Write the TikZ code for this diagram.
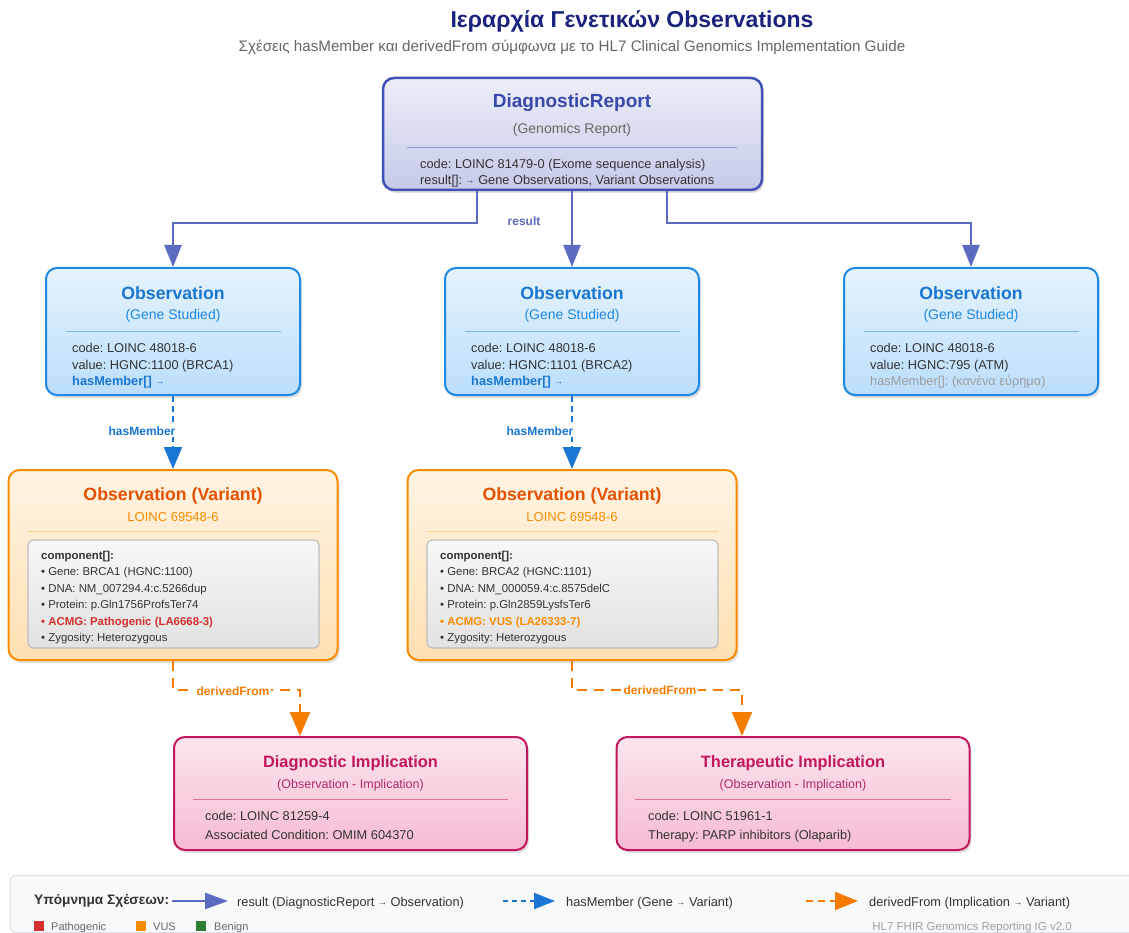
\documentclass[tikz,border=0pt]{standalone}
\usepackage{fontspec}
\setmainfont{Liberation Sans}
\usetikzlibrary{arrows.meta,shadows,calc}
\frenchspacing

% palette
\definecolor{titlenavy}{HTML}{1A237E}
\definecolor{subgrey}{HTML}{666666}
\definecolor{bodygrey}{HTML}{333333}
\definecolor{mutedgrey}{HTML}{9E9E9E}
\definecolor{drborder}{HTML}{3F51B5}
\definecolor{drtitle}{HTML}{3949AB}
\definecolor{drtop}{HTML}{ECEEF8}
\definecolor{drbot}{HTML}{C5CAE9}
\definecolor{drsep}{HTML}{8C9AE0}
\definecolor{resultblue}{HTML}{5C6BC0}
\definecolor{geneborder}{HTML}{1E88E5}
\definecolor{genetitle}{HTML}{1976D2}
\definecolor{genetop}{HTML}{E6F3FD}
\definecolor{genebot}{HTML}{BBDEFB}
\definecolor{genesep}{HTML}{7FB8EE}
\definecolor{varborder}{HTML}{FB8C00}
\definecolor{vartitle}{HTML}{E65100}
\definecolor{varsub}{HTML}{FB8C00}
\definecolor{vartop}{HTML}{FFF4E3}
\definecolor{varbot}{HTML}{FFE0B2}
\definecolor{varsep}{HTML}{FFCC80}
\definecolor{compborder}{HTML}{BDBDBD}
\definecolor{comptop}{HTML}{F7F7F7}
\definecolor{compbot}{HTML}{E2E2E2}
\definecolor{pathored}{HTML}{D32F2F}
\definecolor{vusorange}{HTML}{FB8C00}
\definecolor{benigngreen}{HTML}{2E7D32}
\definecolor{derivedorange}{HTML}{F57C00}
\definecolor{impborder}{HTML}{C2185B}
\definecolor{imptitle}{HTML}{C2185B}
\definecolor{impsub}{HTML}{B0286A}
\definecolor{imptop}{HTML}{FCE6EE}
\definecolor{impbot}{HTML}{F6BBD3}
\definecolor{impsep}{HTML}{E0709A}
\definecolor{legendfill}{HTML}{F8F9FA}
\definecolor{legendline}{HTML}{DEE2E6}

\tikzset{
  card/.style={rounded corners=11pt, line width=2pt, inner sep=0pt,
    drop shadow={shadow xshift=2pt, shadow yshift=-3pt, opacity=0.12, fill=black}},
  drcard/.style={card, line width=2.5pt, draw=drborder, top color=drtop, bottom color=drbot,
    minimum width=379pt, minimum height=112pt},
  genecard/.style={card, draw=geneborder, top color=genetop, bottom color=genebot,
    minimum width=254pt, minimum height=127pt},
  varcard/.style={card, draw=varborder, top color=vartop, bottom color=varbot,
    minimum width=329pt, minimum height=190pt},
  compcard/.style={rounded corners=5pt, line width=1.2pt, draw=compborder, inner sep=0pt,
    top color=comptop, bottom color=compbot, minimum width=291pt, minimum height=108pt},
  impcard/.style={card, draw=impborder, top color=imptop, bottom color=impbot,
    minimum width=353pt, minimum height=113pt},
  heading/.style={font=\bfseries\fontsize{17.7}{21}\selectfont, inner sep=0pt},
  subheading/.style={font=\fontsize{14}{16}\selectfont, inner sep=0pt},
  bodyline/.style={font=\fontsize{12.8}{15}\selectfont, text=bodygrey, anchor=base west,
    yshift=-4.6pt, inner sep=0pt},
  compline/.style={font=\fontsize{11.4}{13}\selectfont, text=bodygrey, anchor=base west,
    yshift=-4.1pt, inner sep=0pt},
  rule/.style={line width=0.9pt},
  resultlink/.style={draw=resultblue, line width=2.5pt, -{Triangle[length=22pt,width=17pt]}},
  memberlink/.style={draw=genetitle, line width=2pt, dash pattern=on 6pt off 4pt,
    -{Triangle[length=22pt,width=18pt]}},
  derivedlink/.style={draw=derivedorange, line width=2pt, dash pattern=on 10pt off 7pt,
    -{Triangle[length=24pt,width=20pt]}},
  linklabel/.style={font=\bfseries\fontsize{12}{14}\selectfont, inner sep=2pt, fill=white},
  legendtext/.style={font=\fontsize{12.8}{15}\selectfont, text=bodygrey, anchor=base west,
    yshift=-4.6pt, inner sep=0pt},
  keytext/.style={font=\fontsize{11}{13}\selectfont, text=subgrey, anchor=base west,
    yshift=-4pt, inner sep=0pt},
  swatch/.style={minimum size=10pt, inner sep=0pt},
}
\newcommand{\smallarrow}{\raisebox{1.5pt}{\fontsize{9}{9}\selectfont →}}

\begin{document}
\begin{tikzpicture}[x=1pt,y=-1pt]
\useasboundingbox (0,0) rectangle (1129,933);
\clip (0,0) rectangle (1129,933);
\fill[white] (0,0) rectangle (1129,933);

% heading
\node[font=\bfseries\fontsize{23}{26}\selectfont, text=titlenavy, inner sep=0pt] (title) at (632,21)
  {Ιεραρχία Γενετικών Observations};
\node[font=\fontsize{15.2}{18}\selectfont, text=subgrey, inner sep=0pt] (subtitle) at (572,47)
  {Σχέσεις hasMember και derivedFrom σύμφωνα με το HL7 Clinical Genomics Implementation Guide};

% DiagnosticReport
\node[drcard] (dr) at (572.5,134) {};
\node[heading, font=\bfseries\fontsize{19}{22}\selectfont, text=drtitle] (drt) at (572,103) {DiagnosticReport};
\node[subheading, text=subgrey] (drs) at (572,130) {(Genomics Report)};
\draw[rule, drsep] (407,147) -- (737,147);
\node[bodyline] (drl1) at (420,164) {code: LOINC 81479-0 (Exome sequence analysis)};
\node[bodyline] (drl2) at (420,180) {result[]: \smallarrow{} Gene Observations, Variant Observations};

% Gene observations
\node[genecard] (g1) at (173,331.5) {};
\node[genecard] (g2) at (572,331.5) {};
\node[genecard] (g3) at (971,331.5) {};

\node[heading, text=genetitle] (g1t) at (173,293) {Observation};
\node[subheading, text=geneborder] (g1s) at (173,316) {(Gene Studied)};
\draw[rule, genesep] (66,331) -- (281,331);
\node[bodyline] (g1a) at (72,348) {code: LOINC 48018-6};
\node[bodyline] (g1b) at (72,365) {value: HGNC:1100 (BRCA1)};
\node[bodyline, text=genetitle, font=\bfseries\fontsize{12.8}{15}\selectfont] (g1c) at (72,381) {hasMember[] \smallarrow};

\node[heading, text=genetitle] (g2t) at (572,293) {Observation};
\node[subheading, text=geneborder] (g2s) at (572,316) {(Gene Studied)};
\draw[rule, genesep] (465,331) -- (680,331);
\node[bodyline] (g2a) at (471,348) {code: LOINC 48018-6};
\node[bodyline] (g2b) at (471,365) {value: HGNC:1101 (BRCA2)};
\node[bodyline, text=genetitle, font=\bfseries\fontsize{12.8}{15}\selectfont] (g2c) at (471,381) {hasMember[] \smallarrow};

\node[heading, text=genetitle] (g3t) at (971,293) {Observation};
\node[subheading, text=geneborder] (g3s) at (971,316) {(Gene Studied)};
\draw[rule, genesep] (864,331) -- (1079,331);
\node[bodyline] (g3a) at (870,348) {code: LOINC 48018-6};
\node[bodyline] (g3b) at (870,365) {value: HGNC:795 (ATM)};
\node[bodyline, text=mutedgrey] (g3c) at (870,381) {hasMember[]: (κανένα εύρημα)};

% result links
\draw[resultlink] ($(dr.south)+(-95.5,0)$) -- ++(0,32) -| (g1.north);
\draw[resultlink] (g2.north |- dr.south) -- (g2.north);
\draw[resultlink] ($(dr.south)+(94.5,0)$) -- ++(0,32) -| (g3.north);
\node[font=\bfseries\fontsize{12}{14}\selectfont, text=resultblue, inner sep=0pt] (reslbl) at (524,221) {result};

% Variant observations
\node[varcard] (v1) at (173,565) {};
\node[varcard] (v2) at (572,565) {};

\node[heading, text=vartitle] (v1t) at (173,496) {Observation (Variant)};
\node[subheading, font=\fontsize{13}{15}\selectfont, text=varsub] (v1s) at (173,517) {LOINC 69548-6};
\draw[rule, varsep] (28,531) -- (319,531);
\node[compcard] (c1) at (173.5,594) {};
\node[compline, font=\bfseries\fontsize{11.4}{13}\selectfont] (c1h) at (41,555) {component[]:};
\node[compline] (c1a) at (41,571) {• Gene: BRCA1 (HGNC:1100)};
\node[compline] (c1b) at (41,588) {• DNA: NM\_007294.4:c.5266dup};
\node[compline] (c1c) at (41,604) {• Protein: p.Gln1756ProfsTer74};
\node[compline, text=pathored, font=\bfseries\fontsize{11.4}{13}\selectfont] (c1d) at (41,621) {• ACMG: Pathogenic (LA6668-3)};
\node[compline] (c1e) at (41,637) {• Zygosity: Heterozygous};

\node[heading, text=vartitle] (v2t) at (572,496) {Observation (Variant)};
\node[subheading, font=\fontsize{13}{15}\selectfont, text=varsub] (v2s) at (572,517) {LOINC 69548-6};
\draw[rule, varsep] (427,531) -- (718,531);
\node[compcard] (c2) at (572.5,594) {};
\node[compline, font=\bfseries\fontsize{11.4}{13}\selectfont] (c2h) at (440,555) {component[]:};
\node[compline] (c2a) at (440,571) {• Gene: BRCA2 (HGNC:1101)};
\node[compline] (c2b) at (440,588) {• DNA: NM\_000059.4:c.8575delC};
\node[compline] (c2c) at (440,604) {• Protein: p.Gln2859LysfsTer6};
\node[compline, text=vusorange, font=\bfseries\fontsize{11.4}{13}\selectfont] (c2d) at (440,621) {• ACMG: VUS (LA26333-7)};
\node[compline] (c2e) at (440,637) {• Zygosity: Heterozygous};

% hasMember links
\draw[memberlink] (g1.south) -- (v1.north);
\draw[memberlink] (g2.south) -- (v2.north);
\node[linklabel, text=genetitle] (m1lbl) at (142,431) {hasMember};
\node[linklabel, text=genetitle] (m2lbl) at (540,431) {hasMember};

% Implications
\node[impcard] (imp1) at (350.5,793.5) {};
\node[impcard] (imp2) at (793,793.5) {};

\node[heading, font=\bfseries\fontsize{16.4}{19}\selectfont, text=imptitle] (i1t) at (350.5,763) {Diagnostic Implication};
\node[subheading, font=\fontsize{12.5}{15}\selectfont, text=impsub] (i1s) at (350.5,785) {(Observation - Implication)};
\draw[rule, impsep] (193,799) -- (508,799);
\node[bodyline] (i1a) at (205,816) {code: LOINC 81259-4};
\node[bodyline] (i1b) at (205,835) {Associated Condition: OMIM 604370};

\node[heading, font=\bfseries\fontsize{16.4}{19}\selectfont, text=imptitle] (i2t) at (793,763) {Therapeutic Implication};
\node[subheading, font=\fontsize{12.5}{15}\selectfont, text=impsub] (i2s) at (793,785) {(Observation - Implication)};
\draw[rule, impsep] (635,799) -- (951,799);
\node[bodyline] (i2a) at (648,816) {code: LOINC 51961-1};
\node[bodyline] (i2b) at (648,835) {Therapy: PARP inhibitors (Olaparib)};

% derivedFrom links
\draw[derivedlink] (v1.south) |- ($(imp1.north)+(-50.5,-46)$) -- ($(imp1.north)+(-50.5,0)$);
\draw[derivedlink] (v2.south) |- ($(imp2.north)+(-51,-46)$) -- ($(imp2.north)+(-51,0)$);
\node[linklabel, text=derivedorange] (d1lbl) at (233,691) {derivedFrom};
\node[linklabel, text=derivedorange] (d2lbl) at (660,690) {derivedFrom};

% legend
\node[draw=legendline, fill=legendfill, line width=1pt, rounded corners=6pt, inner sep=0pt,
  minimum width=1130pt, minimum height=57pt] (legend) at (575,904) {};
\node[font=\bfseries\fontsize{13.7}{16}\selectfont, text=bodygrey, anchor=base west, yshift=-4.8pt, inner sep=0pt] (legt) at (34,900) {Υπόμνημα Σχέσεων:};
\coordinate (ra) at (172,901);
\coordinate (rb) at (228,901);
\draw[resultlink, -{Triangle[length=23pt,width=16pt]}] (ra) -- (rb);
\node[legendtext] (lr) at (237,902) {result (DiagnosticReport \smallarrow{} Observation)};
\coordinate (ma) at (503,901);
\coordinate (mb) at (555,901);
\draw[memberlink, dash pattern=on 5pt off 4pt, -{Triangle[length=21pt,width=16pt]}] (ma) -- (mb);
\node[legendtext] (lm) at (566,902) {hasMember (Gene \smallarrow{} Variant)};
\coordinate (da) at (806,901);
\coordinate (db) at (858,901);
\draw[derivedlink, dash pattern=on 7pt off 5pt, -{Triangle[length=23pt,width=18pt]}] (da) -- (db);
\node[legendtext] (ld) at (869,902) {derivedFrom (Implication \smallarrow{} Variant)};

\node[swatch, fill=pathored] (sw1) at (39,926) {};
\node[keytext] (k1) at (51,926) {Pathogenic};
\node[swatch, fill=vusorange] (sw2) at (141,926) {};
\node[keytext] (k2) at (153,926) {VUS};
\node[swatch, fill=benigngreen] (sw3) at (201,926) {};
\node[keytext] (k3) at (214,926) {Benign};
\node[font=\fontsize{11.5}{13}\selectfont, text=mutedgrey, anchor=base east, yshift=-4.1pt, inner sep=0pt] (ver) at (1072,926) {HL7 FHIR Genomics Reporting IG v2.0};
\end{tikzpicture}
\end{document}
